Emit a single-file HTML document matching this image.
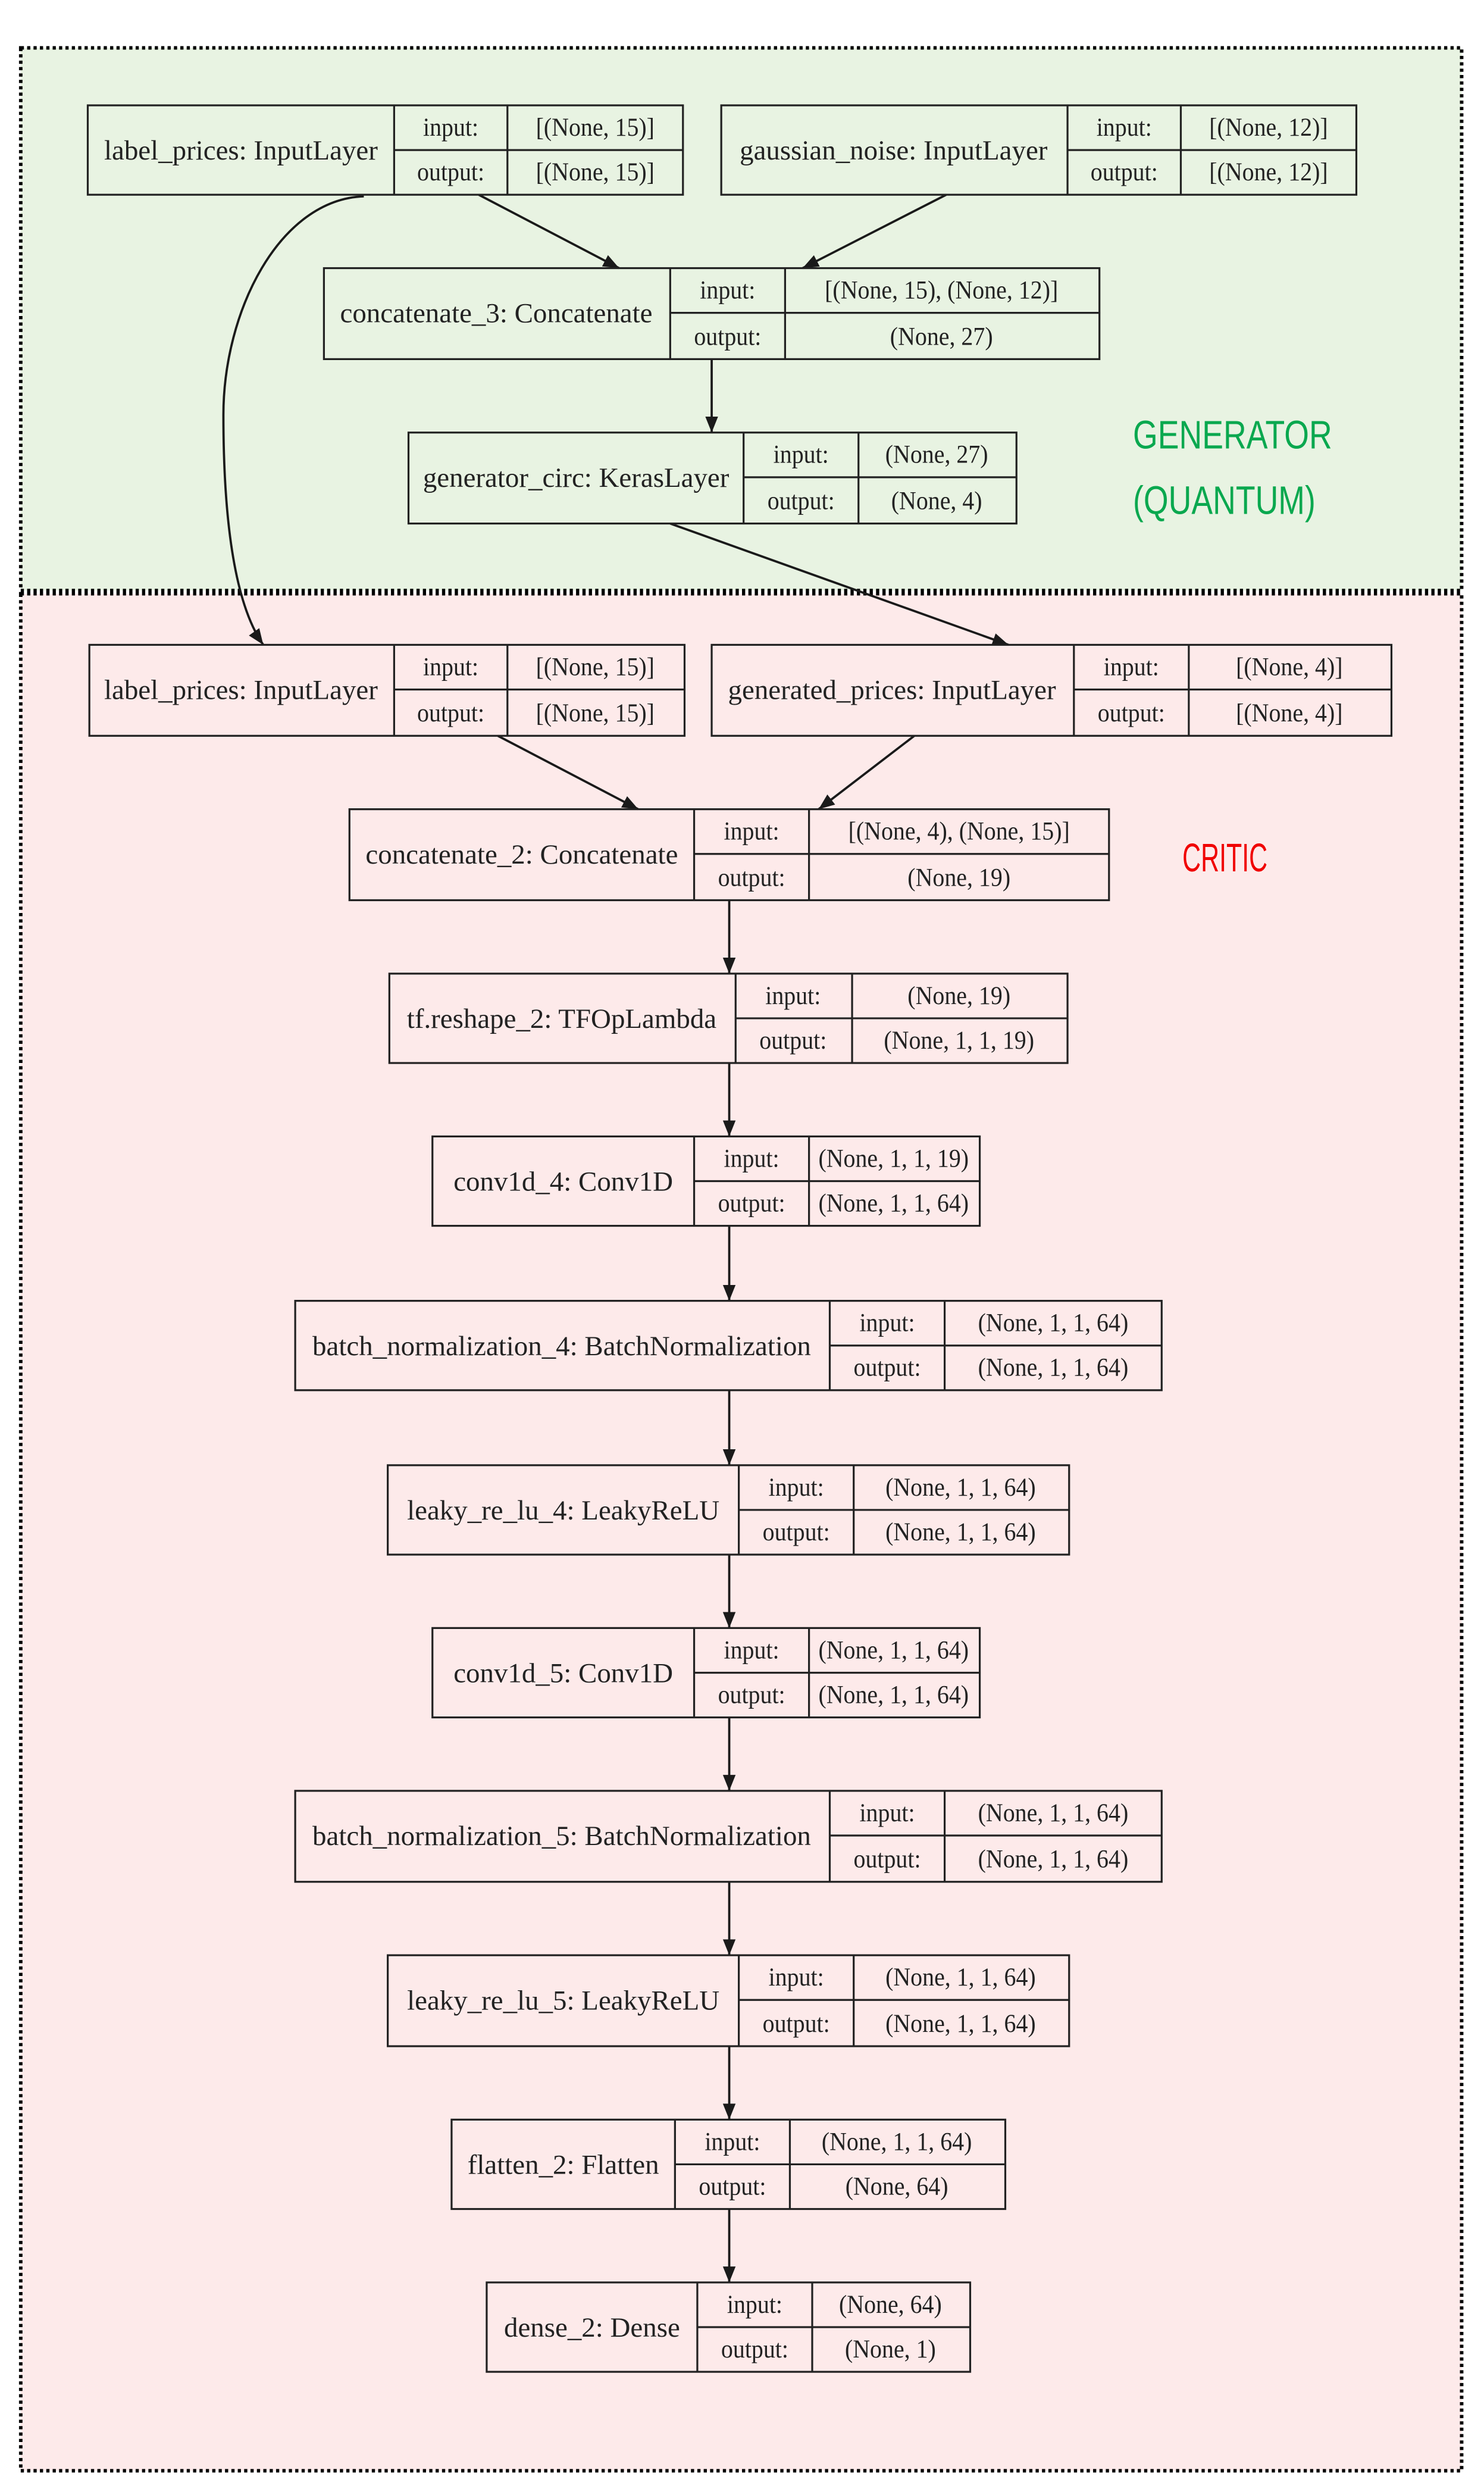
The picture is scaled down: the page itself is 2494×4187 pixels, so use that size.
<!DOCTYPE html>
<html><head><meta charset="utf-8"><style>
html,body{margin:0;padding:0;background:#fff}
svg{display:block}
text{font-family:"Liberation Serif",serif;font-size:16px;fill:#222;transform-box:fill-box;transform-origin:center;transform:scaleX(0.93)}
text.n{font-size:17.5px;transform:none}
text.big{font-family:"Liberation Sans",sans-serif;font-size:25px;transform-origin:left center;transform:scaleX(0.8)}
text.cr{transform:scaleX(0.64)}
</style></head><body>
<svg width="2494" height="4187" viewBox="0 0 930 1561.3" preserveAspectRatio="none" xmlns="http://www.w3.org/2000/svg">
<defs>
<marker id="a" markerWidth="10" markerHeight="8" refX="10" refY="4" orient="auto" markerUnits="userSpaceOnUse"><path d="M0,0 L10,4 L0,8 z" fill="#1a1a1a"/></marker>
</defs>
<rect x="13" y="30" width="903" height="340" fill="#e8f3e2" stroke="#000" stroke-width="2.2" stroke-dasharray="2,2"/>
<rect x="13" y="372" width="903" height="1176" fill="#fdeaea" stroke="#000" stroke-width="2.2" stroke-dasharray="2,2"/>
<text class="big" x="710" y="281" style="fill:#0aa84f">GENERATOR</text>
<text class="big" x="710" y="322" style="fill:#0aa84f">(QUANTUM)</text>
<text class="big cr" x="741" y="546" style="fill:#f00000">CRITIC</text>
<g fill="none" stroke="#1a1a1a" stroke-width="1.4">
<line x1="300" y1="122" x2="388" y2="168" marker-end="url(#a)"/>
<line x1="593" y1="122" x2="503" y2="168" marker-end="url(#a)"/>
<line x1="446" y1="225" x2="446" y2="271" marker-end="url(#a)"/>
<line x1="420" y1="328" x2="632" y2="404" marker-end="url(#a)"/>
<path d="M228,123 C175,125 140,195 140,260 C140,330 148,380 165,404" marker-end="url(#a)"/>
<line x1="312" y1="461" x2="400" y2="507" marker-end="url(#a)"/>
<line x1="573" y1="461" x2="513" y2="507" marker-end="url(#a)"/>
<line x1="457" y1="564" x2="457" y2="610" marker-end="url(#a)"/>
<line x1="457" y1="666" x2="457" y2="712" marker-end="url(#a)"/>
<line x1="457" y1="768" x2="457" y2="815" marker-end="url(#a)"/>
<line x1="457" y1="871" x2="457" y2="918" marker-end="url(#a)"/>
<line x1="457" y1="974" x2="457" y2="1020" marker-end="url(#a)"/>
<line x1="457" y1="1076" x2="457" y2="1122" marker-end="url(#a)"/>
<line x1="457" y1="1179" x2="457" y2="1225" marker-end="url(#a)"/>
<line x1="457" y1="1282" x2="457" y2="1328" marker-end="url(#a)"/>
<line x1="457" y1="1384" x2="457" y2="1430" marker-end="url(#a)"/>
</g>
<g stroke="#222" stroke-width="1.2" fill="none">
<rect x="55" y="66" width="373" height="56"/><line x1="247" y1="66" x2="247" y2="122"/><line x1="318" y1="66" x2="318" y2="122"/><line x1="247" y1="94" x2="428" y2="94"/>
<rect x="452" y="66" width="398" height="56"/><line x1="669" y1="66" x2="669" y2="122"/><line x1="740" y1="66" x2="740" y2="122"/><line x1="669" y1="94" x2="850" y2="94"/>
<rect x="203" y="168" width="486" height="57"/><line x1="420" y1="168" x2="420" y2="225"/><line x1="492" y1="168" x2="492" y2="225"/><line x1="420" y1="196" x2="689" y2="196"/>
<rect x="256" y="271" width="381" height="57"/><line x1="466" y1="271" x2="466" y2="328"/><line x1="538" y1="271" x2="538" y2="328"/><line x1="466" y1="299" x2="637" y2="299"/>
<rect x="56" y="404" width="373" height="57"/><line x1="247" y1="404" x2="247" y2="461"/><line x1="318" y1="404" x2="318" y2="461"/><line x1="247" y1="432" x2="429" y2="432"/>
<rect x="446" y="404" width="426" height="57"/><line x1="673" y1="404" x2="673" y2="461"/><line x1="745" y1="404" x2="745" y2="461"/><line x1="673" y1="432" x2="872" y2="432"/>
<rect x="219" y="507" width="476" height="57"/><line x1="435" y1="507" x2="435" y2="564"/><line x1="507" y1="507" x2="507" y2="564"/><line x1="435" y1="535" x2="695" y2="535"/>
<rect x="244" y="610" width="425" height="56"/><line x1="461" y1="610" x2="461" y2="666"/><line x1="534" y1="610" x2="534" y2="666"/><line x1="461" y1="638" x2="669" y2="638"/>
<rect x="271" y="712" width="343" height="56"/><line x1="435" y1="712" x2="435" y2="768"/><line x1="507" y1="712" x2="507" y2="768"/><line x1="435" y1="740" x2="614" y2="740"/>
<rect x="185" y="815" width="543" height="56"/><line x1="520" y1="815" x2="520" y2="871"/><line x1="592" y1="815" x2="592" y2="871"/><line x1="520" y1="843" x2="728" y2="843"/>
<rect x="243" y="918" width="427" height="56"/><line x1="463" y1="918" x2="463" y2="974"/><line x1="535" y1="918" x2="535" y2="974"/><line x1="463" y1="946" x2="670" y2="946"/>
<rect x="271" y="1020" width="343" height="56"/><line x1="435" y1="1020" x2="435" y2="1076"/><line x1="507" y1="1020" x2="507" y2="1076"/><line x1="435" y1="1048" x2="614" y2="1048"/>
<rect x="185" y="1122" width="543" height="57"/><line x1="520" y1="1122" x2="520" y2="1179"/><line x1="592" y1="1122" x2="592" y2="1179"/><line x1="520" y1="1150" x2="728" y2="1150"/>
<rect x="243" y="1225" width="427" height="57"/><line x1="463" y1="1225" x2="463" y2="1282"/><line x1="535" y1="1225" x2="535" y2="1282"/><line x1="463" y1="1253" x2="670" y2="1253"/>
<rect x="283" y="1328" width="347" height="56"/><line x1="423" y1="1328" x2="423" y2="1384"/><line x1="495" y1="1328" x2="495" y2="1384"/><line x1="423" y1="1356" x2="630" y2="1356"/>
<rect x="305" y="1430" width="303" height="56"/><line x1="437" y1="1430" x2="437" y2="1486"/><line x1="509" y1="1430" x2="509" y2="1486"/><line x1="437" y1="1458" x2="608" y2="1458"/>
</g>
<g text-anchor="middle">
<text class="n" x="151" y="100">label_prices: InputLayer</text><text x="282.5" y="85">input:</text><text x="282.5" y="113">output:</text><text x="373" y="85">[(None, 15)]</text><text x="373" y="113">[(None, 15)]</text>
<text class="n" x="560" y="100">gaussian_noise: InputLayer</text><text x="704.5" y="85">input:</text><text x="704.5" y="113">output:</text><text x="795" y="85">[(None, 12)]</text><text x="795" y="113">[(None, 12)]</text>
<text class="n" x="311" y="202">concatenate_3: Concatenate</text><text x="456" y="187">input:</text><text x="456" y="216">output:</text><text x="590" y="187">[(None, 15), (None, 12)]</text><text x="590" y="216">(None, 27)</text>
<text class="n" x="361" y="305">generator_circ: KerasLayer</text><text x="502" y="290">input:</text><text x="502" y="319">output:</text><text x="587" y="290">(None, 27)</text><text x="587" y="319">(None, 4)</text>
<text class="n" x="151" y="438">label_prices: InputLayer</text><text x="282.5" y="423">input:</text><text x="282.5" y="452">output:</text><text x="373" y="423">[(None, 15)]</text><text x="373" y="452">[(None, 15)]</text>
<text class="n" x="559" y="438">generated_prices: InputLayer</text><text x="709" y="423">input:</text><text x="709" y="452">output:</text><text x="808" y="423">[(None, 4)]</text><text x="808" y="452">[(None, 4)]</text>
<text class="n" x="327" y="541">concatenate_2: Concatenate</text><text x="471" y="526">input:</text><text x="471" y="555">output:</text><text x="601" y="526">[(None, 4), (None, 15)]</text><text x="601" y="555">(None, 19)</text>
<text class="n" x="352" y="644">tf.reshape_2: TFOpLambda</text><text x="497" y="629">input:</text><text x="497" y="657">output:</text><text x="601" y="629">(None, 19)</text><text x="601" y="657">(None, 1, 1, 19)</text>
<text class="n" x="353" y="746">conv1d_4: Conv1D</text><text x="471" y="731">input:</text><text x="471" y="759">output:</text><text x="560" y="731">(None, 1, 1, 19)</text><text x="560" y="759">(None, 1, 1, 64)</text>
<text class="n" x="352" y="849">batch_normalization_4: BatchNormalization</text><text x="556" y="834">input:</text><text x="556" y="862">output:</text><text x="660" y="834">(None, 1, 1, 64)</text><text x="660" y="862">(None, 1, 1, 64)</text>
<text class="n" x="353" y="952">leaky_re_lu_4: LeakyReLU</text><text x="499" y="937">input:</text><text x="499" y="965">output:</text><text x="602" y="937">(None, 1, 1, 64)</text><text x="602" y="965">(None, 1, 1, 64)</text>
<text class="n" x="353" y="1054">conv1d_5: Conv1D</text><text x="471" y="1039">input:</text><text x="471" y="1067">output:</text><text x="560" y="1039">(None, 1, 1, 64)</text><text x="560" y="1067">(None, 1, 1, 64)</text>
<text class="n" x="352" y="1156">batch_normalization_5: BatchNormalization</text><text x="556" y="1141">input:</text><text x="556" y="1170">output:</text><text x="660" y="1141">(None, 1, 1, 64)</text><text x="660" y="1170">(None, 1, 1, 64)</text>
<text class="n" x="353" y="1259">leaky_re_lu_5: LeakyReLU</text><text x="499" y="1244">input:</text><text x="499" y="1273">output:</text><text x="602" y="1244">(None, 1, 1, 64)</text><text x="602" y="1273">(None, 1, 1, 64)</text>
<text class="n" x="353" y="1362">flatten_2: Flatten</text><text x="459" y="1347">input:</text><text x="459" y="1375">output:</text><text x="562" y="1347">(None, 1, 1, 64)</text><text x="562" y="1375">(None, 64)</text>
<text class="n" x="371" y="1464">dense_2: Dense</text><text x="473" y="1449">input:</text><text x="473" y="1477">output:</text><text x="558" y="1449">(None, 64)</text><text x="558" y="1477">(None, 1)</text>
</g>
</svg>
</body></html>
